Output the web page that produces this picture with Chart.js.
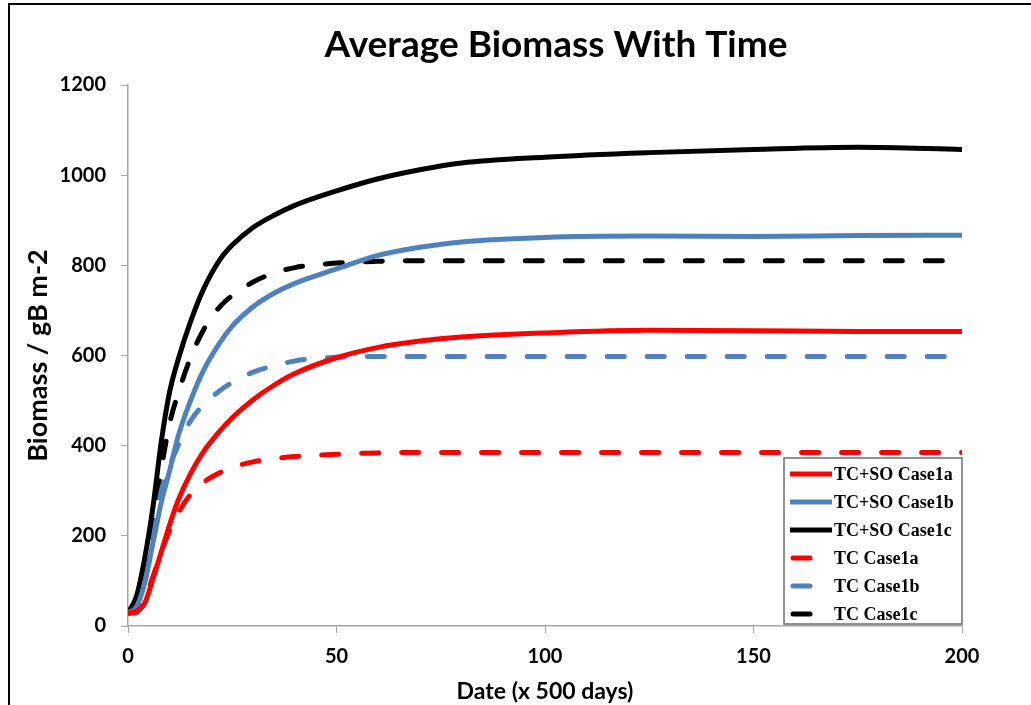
<!DOCTYPE html>
<html>
<head>
<meta charset="utf-8">
<script src="https://cdn.jsdelivr.net/npm/chart.js@4.4.1/dist/chart.umd.min.js"></script>
<style>
  html, body { margin: 0; padding: 0; background: #fff; }
  #wrap { width: 1031px; height: 705px; position: relative; }
</style>
</head>
<body>
<div id="wrap"><canvas id="bioChart" width="1031" height="705"></canvas></div>
<script>
// x values (x 500 days)
const days = [0, 2, 4, 6, 8, 10, 12, 15, 18, 22, 25, 30, 35, 40, 50, 60, 70, 80, 100, 125, 150, 175, 200];

// biomass, gB m-2
const soCase1a = [28, 33, 50, 105, 165, 225, 278, 338, 385, 432, 462, 502, 534, 560, 595, 618, 632, 641, 650, 656, 655, 653, 653];
const soCase1b = [30, 42, 95, 185, 275, 345, 420, 500, 565, 628, 665, 708, 738, 760, 792, 822, 840, 852, 862, 865, 864, 866, 867];
const soCase1c = [30, 65, 150, 265, 410, 520, 590, 675, 745, 812, 845, 884, 911, 933, 965, 992, 1012, 1027, 1040, 1050, 1057, 1062, 1057];
const tcCase1a = [28, 30, 60, 110, 165, 212, 250, 292, 318, 340, 352, 364, 371, 376, 381, 384, 385, 385, 385, 385, 385, 385, 385];
const tcCase1b = [30, 55, 100, 197, 300, 355, 400, 455, 490, 522, 540, 563, 577, 588, 596, 598, 598, 598, 598, 598, 598, 598, 598];
const tcCase1c = [30, 55, 120, 230, 350, 450, 515, 595, 655, 708, 733, 763, 783, 795, 805, 809, 810, 810, 810, 810, 810, 810, 810];

const xTicks = [0, 50, 100, 150, 200];
const yTicks = [0, 200, 400, 600, 800, 1000, 1200];

const RED = '#ff0000';
const BLUE = '#4f81bd';
const BLACK = '#000000';
const AXIS = '#a6a6a6';

function pts(arr) {
    return arr.map((v, i) => ({ x: days[i], y: v }));
}

function series(label, arr, color, dashed) {
    return {
        label: label,
        data: pts(arr),
        borderColor: color,
        backgroundColor: color,
        borderWidth: 5,
        borderDash: dashed ? [17, 23] : [],
        borderCapStyle: dashed ? 'round' : 'butt',
        pointRadius: 0,
        cubicInterpolationMode: 'monotone',
        fill: false,
        dashed: dashed
    };
}

// white page, black frame and the title (centred over the plot, not the canvas)
const framePlugin = {
    id: 'frame',
    beforeDraw(chart) {
        const c = chart.ctx;
        c.save();
        c.fillStyle = '#fff';
        c.fillRect(0, 0, chart.width, chart.height);
        c.strokeStyle = '#000';
        c.lineWidth = 2;
        c.strokeRect(9, 4, 1200, 900);
        c.fillStyle = '#000';
        c.font = 'bold 37px Lato';
        c.textAlign = 'center';
        c.textBaseline = 'middle';
        c.fillText('Average Biomass With Time', 556, 45);
        c.restore();
    }
};

// legend box in the lower right corner of the plot
const boxLegend = {
    id: 'boxLegend',
    afterDatasetsDraw(chart) {
        const c = chart.ctx;
        const area = chart.chartArea;
        const w = 178, h = 166;
        const x0 = area.right - w, y0 = area.bottom - h - 2;
        c.save();
        c.fillStyle = '#fff';
        c.fillRect(x0, y0, w, h);
        c.strokeStyle = '#6e6e6e';
        c.lineWidth = 1.5;
        c.strokeRect(x0, y0, w, h);
        c.font = 'bold 18px "Liberation Serif", "Times New Roman", serif';
        c.textBaseline = 'middle';
        chart.data.datasets.forEach((ds, i) => {
            const y = y0 + 16 + i * 28;
            c.strokeStyle = ds.borderColor;
            c.lineWidth = 5;
            c.beginPath();
            if (ds.dashed) {
                c.lineCap = 'round';
                c.moveTo(x0 + 9, y);
                c.lineTo(x0 + 26, y);
            } else {
                c.lineCap = 'butt';
                c.moveTo(x0 + 6, y);
                c.lineTo(x0 + 48, y);
            }
            c.stroke();
            c.fillStyle = '#000';
            c.fillText(ds.label, x0 + 50, y + 1);
        });
        c.restore();
    }
};

const ctx = document.getElementById('bioChart').getContext('2d');

const chart = new Chart(ctx, {
    type: 'line',
    data: {
        datasets: [
            series('TC+SO Case1a', soCase1a, RED, false),
            series('TC+SO Case1b', soCase1b, BLUE, false),
            series('TC+SO Case1c', soCase1c, BLACK, false),
            series('TC Case1a', tcCase1a, RED, true),
            series('TC Case1b', tcCase1b, BLUE, true),
            series('TC Case1c', tcCase1c, BLACK, true)
        ]
    },
    plugins: [framePlugin, boxLegend],
    options: {
        responsive: false,
        animation: false,
        layout: {
            padding: { left: 0, right: 69, top: 85, bottom: 0 }
        },
        plugins: {
            legend: { display: false },
            tooltip: { enabled: false },
            title: { display: false }
        },
        scales: {
            x: {
                type: 'linear',
                min: 0,
                max: 200,
                afterBuildTicks: s => { s.ticks = xTicks.map(v => ({ value: v })); },
                afterFit: s => { s.height = 79; },
                grid: {
                    drawOnChartArea: false,
                    drawTicks: true,
                    tickLength: 7,
                    color: AXIS
                },
                border: { color: AXIS, width: 1.5 },
                ticks: {
                    color: '#000',
                    padding: 12,
                    font: { family: 'Lato', size: 20, weight: 'bold' },
                    callback: v => String(v)
                },
                title: {
                    display: true,
                    text: 'Date (x 500 days)',
                    color: '#000',
                    font: { family: 'Lato', size: 23, weight: 'bold' },
                    padding: { top: 0, bottom: 0 }
                }
            },
            y: {
                min: 0,
                max: 1200,
                afterBuildTicks: s => { s.ticks = yTicks.map(v => ({ value: v })); },
                afterFit: s => { s.width = 128; },
                grid: {
                    drawOnChartArea: false,
                    drawTicks: true,
                    tickLength: 7,
                    color: AXIS
                },
                border: { color: AXIS, width: 1.5 },
                ticks: {
                    color: '#000',
                    padding: 15,
                    font: { family: 'Lato', size: 20, weight: 'bold' },
                    callback: v => String(v)
                },
                title: {
                    display: true,
                    text: 'Biomass / gB m-2',
                    color: '#000',
                    font: { family: 'Lato', size: 27, weight: 'bold' },
                    padding: { top: 22, bottom: 0 }
                }
            }
        }
    }
});
</script>
</body>
</html>
